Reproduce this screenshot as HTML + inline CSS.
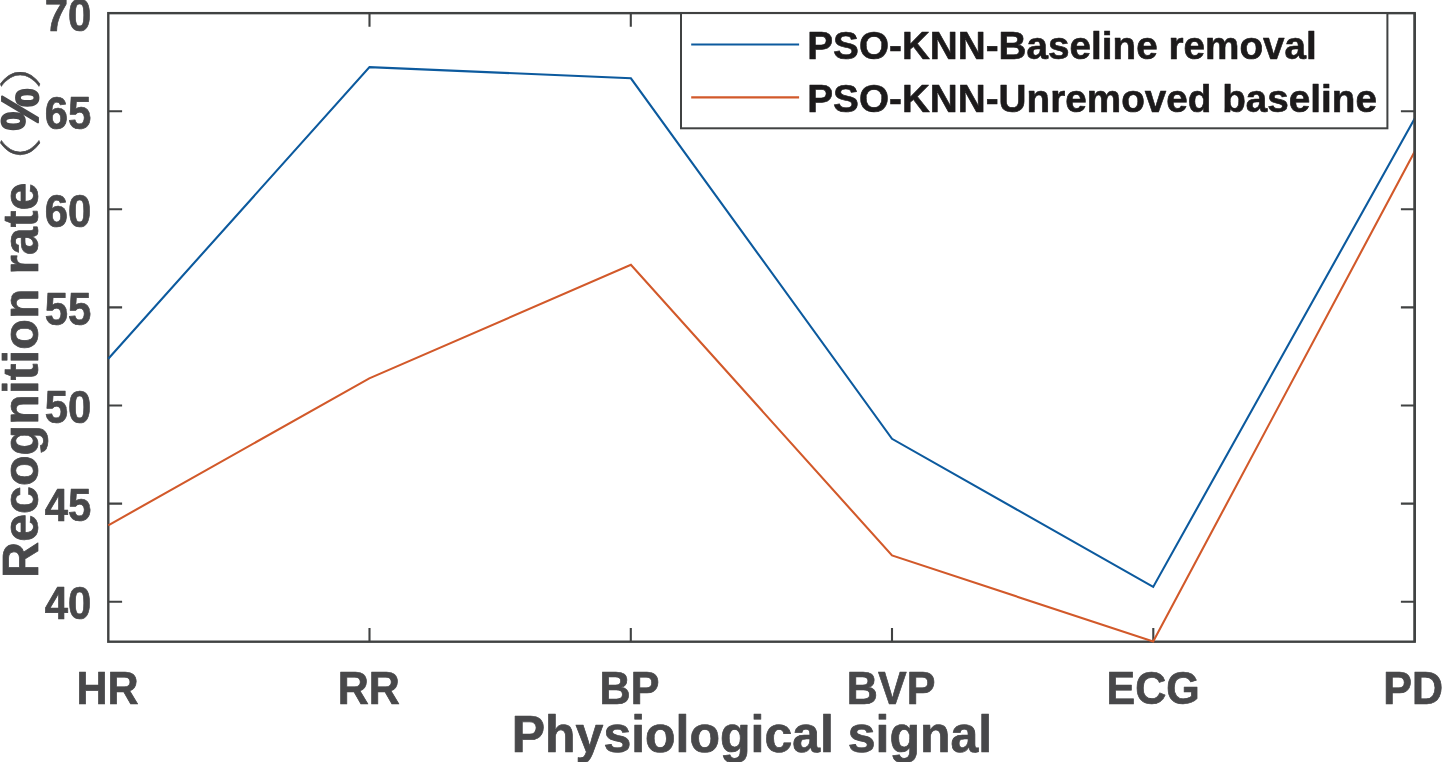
<!DOCTYPE html>
<html lang="en">
<head>
<meta charset="utf-8">
<title>Recognition rate by physiological signal</title>
<style>
  html, body { margin: 0; padding: 0; background: #ffffff; }
  body { width: 1442px; height: 762px; overflow: hidden; position: relative; }
  svg { position: absolute; left: 0; top: 0; display: block; will-change: transform; }
  text { font-family: "Liberation Sans", "Noto Sans CJK SC", sans-serif; font-weight: bold; }
  .ax { fill: #48484a; stroke: #48484a; stroke-width: 0.7px; stroke-linejoin: round; }
  .tick { font-size: 44px; }
  .lbl { font-size: 50px; }
  .leg { font-size: 38.7px; fill: #1c1a1b; stroke: #1c1a1b; stroke-width: 0.6px; stroke-linejoin: round; }
  .paren { font-family: "Noto Sans CJK SC", "Liberation Sans", sans-serif; font-weight: 300; font-size: 42px; stroke-width: 0.4px; }
  .pct { stroke-width: 1.8px; }
</style>
</head>
<body>
<svg width="1442" height="762" viewBox="0 0 1442 762">
  <rect x="0" y="0" width="1442" height="762" fill="#ffffff"/>

  <!-- axes box and ticks -->
  <g stroke="#404242" stroke-width="2.4" fill="none">
    <rect x="108.3" y="13.15" width="1306.40" height="628.55"/>
    <path stroke-width="2.1" d="M369.5,641.7v-13.7 M369.5,13.15v13.7 M630.8,641.7v-13.7 M630.8,13.15v13.7 M892.0,641.7v-13.7 M892.0,13.15v13.7 M1153.3,641.7v-13.7 M1153.3,13.15v13.7"/>
    <path stroke-width="2.1" d="M108.3,111.2h13.8 M1414.7,111.2h-13.8 M108.3,209.3h13.8 M1414.7,209.3h-13.8 M108.3,307.4h13.8 M1414.7,307.4h-13.8 M108.3,405.5h13.8 M1414.7,405.5h-13.8 M108.3,503.6h13.8 M1414.7,503.6h-13.8 M108.3,601.7h13.8 M1414.7,601.7h-13.8"/>
  </g>
  <!-- data lines -->
  <polyline fill="none" stroke="#0c5a9e" stroke-width="2.1" stroke-linejoin="miter" points="108.3,358.7 369.5,67.1 630.9,78.3 892,438.8 1153.2,586.9 1414.7,118.5"/>
  <polyline fill="none" stroke="#d2592a" stroke-width="2.1" stroke-linejoin="miter" points="108.3,525.3 369.3,378.4 630.9,264.8 892,555.4 1153.2,641.5 1414.7,151.5"/>
  <line x1="1414.7" y1="13.15" x2="1414.7" y2="641.7" stroke="#404242" stroke-width="2.4"/>
  <!-- legend -->
  <rect x="681" y="13.1" width="706.4" height="115.2" fill="#ffffff" stroke="#404242" stroke-width="2"/>
  <line x1="691.2" y1="44.5" x2="799.1" y2="44.5" stroke="#0c5a9e" stroke-width="2.1"/>
  <line x1="691.2" y1="97.4" x2="799.1" y2="97.4" stroke="#d2592a" stroke-width="2.1"/>
  <text class="leg" transform="translate(807.3,58.8) scale(1,1.02)">PSO-KNN-Baseline removal</text>
  <text class="leg" transform="translate(807.3,111.6) scale(1,1.02)">PSO-KNN-Unremoved baseline</text>
  <!-- y tick labels -->
  <g class="ax tick" text-anchor="end">
    <text transform="translate(91.4,30.70) scale(0.952,1.045)">70</text>
    <text transform="translate(91.4,128.95) scale(0.952,1.045)">65</text>
    <text transform="translate(91.4,227.05) scale(0.952,1.045)">60</text>
    <text transform="translate(91.4,325.15) scale(0.952,1.045)">55</text>
    <text transform="translate(91.4,423.25) scale(0.952,1.045)">50</text>
    <text transform="translate(91.4,521.35) scale(0.952,1.045)">45</text>
    <text transform="translate(91.4,619.45) scale(0.952,1.045)">40</text>
  </g>
  <!-- x tick labels -->
  <g class="ax tick" text-anchor="middle">
    <text transform="translate(107.5,704) scale(0.978,1.03)">HR</text>
    <text transform="translate(368.7,704) scale(0.978,1.03)">RR</text>
    <text transform="translate(629.5,704) scale(0.978,1.03)">BP</text>
    <text transform="translate(891.1,704) scale(0.978,1.03)">BVP</text>
    <text transform="translate(1153.2,704) scale(0.978,1.03)">ECG</text>
    <text transform="translate(1413.2,704) scale(0.978,1.03)">PD</text>
  </g>
  <!-- axis labels -->
  <text class="ax lbl" transform="translate(752,751.6) scale(1,1.025)" text-anchor="middle">Physiological signal</text>
  <text class="ax lbl" transform="translate(38.2,578) rotate(-90) scale(1.0025,1)">Recognition rate</text><text class="ax paren" transform="translate(36.0,198.1) rotate(-90) scale(1.44,1)">（</text><text class="ax lbl pct" transform="translate(38.4,130.6) rotate(-90) scale(0.95,1.04)">%</text><text class="ax paren" transform="translate(36.0,89.3) rotate(-90) scale(1.44,1)">）</text>
</svg>
</body>
</html>
